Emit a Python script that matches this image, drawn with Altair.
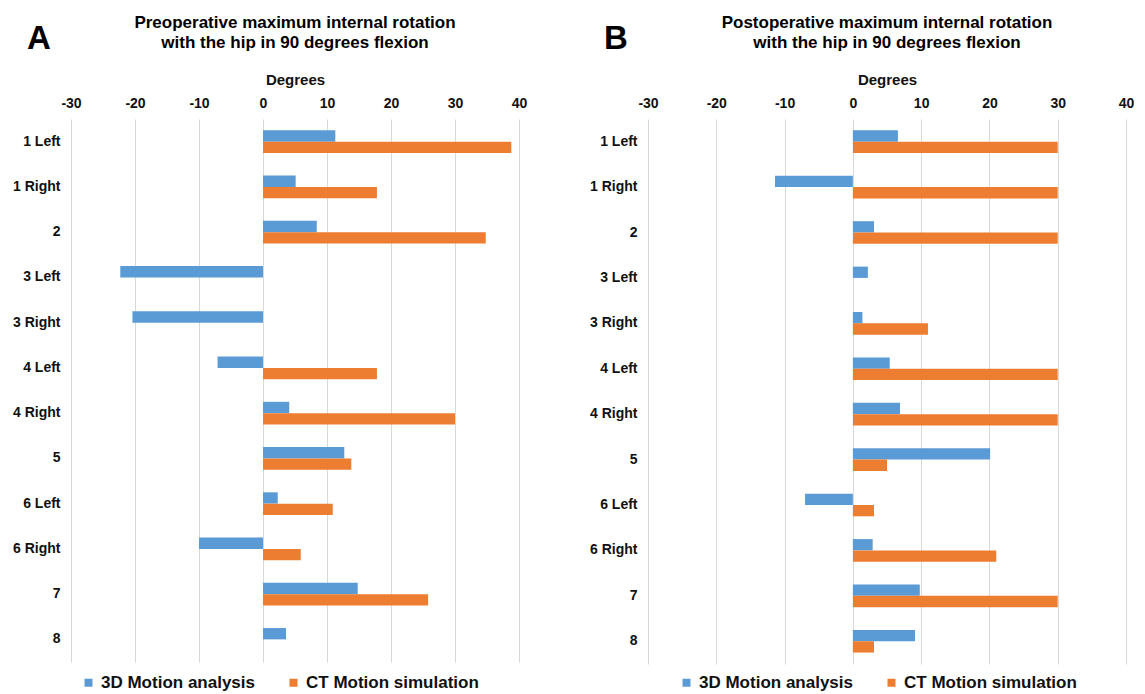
import altair as alt
import pandas as pd

categories = ["1 Left", "1 Right", "2", "3 Left", "3 Right", "4 Left",
              "4 Right", "5", "6 Left", "6 Right", "7", "8"]
series = ["3D Motion analysis", "CT Motion simulation"]
colors = ["#5B9BD5", "#ED7D31"]

pre_3d = [11.3, 5.1, 8.4, -22.3, -20.4, -7.1, 4.1, 12.7, 2.3, -10.0, 14.8, 3.6]
pre_ct = [38.8, 17.8, 34.8, None, None, 17.8, 30.0, 13.8, 10.9, 5.9, 25.8, None]
post_3d = [6.6, -11.4, 3.1, 2.2, 1.4, 5.4, 6.9, 20.1, -7.0, 2.9, 9.8, 9.1]
post_ct = [30.0, 30.0, 30.0, None, 11.0, 30.0, 30.0, 5.0, 3.1, 21.0, 30.0, 3.1]

x_ticks = [-30, -20, -10, 0, 10, 20, 30, 40]
title_pre = ["Preoperative maximum internal rotation", "with the hip in 90 degrees flexion"]
title_post = ["Postoperative maximum  internal rotation", "with the hip in 90 degrees flexion"]
letters = ["A", "B"]

FONT = "Liberation Sans"
TXT = "#111111"


def long_df(v3d, vct):
    rows = []
    for c, a, b in zip(categories, v3d, vct):
        rows.append({"cat": c, "series": series[0], "value": a})
        rows.append({"cat": c, "series": series[1], "value": b})
    return pd.DataFrame(rows)


def panel(letter, title_lines, v3d, vct, width, height, legend_x, legend_dy):
    df = long_df(v3d, vct)
    bars = alt.Chart(df).mark_bar().encode(
        x=alt.X("value:Q",
                scale=alt.Scale(domain=[-30, 40], nice=False, zero=False),
                axis=alt.Axis(orient="top", values=x_ticks, title="Degrees",
                              labelExpr="datum.value < 0 ? '-' + abs(datum.value) : '' + datum.value",
                              labelFlush=False, labelOverlap=False,
                              domain=False, ticks=False, grid=True,
                              gridColor="#d9d9d9", gridWidth=1,
                              labelFont=FONT, labelFontSize=14, labelFontWeight="bold",
                              labelColor=TXT, labelPadding=9,
                              titleFont=FONT, titleFontSize=15, titleFontWeight="bold",
                              titleColor=TXT, titlePadding=9)),
        y=alt.Y("cat:N", sort=categories,
                scale=alt.Scale(paddingInner=0.5, paddingOuter=0.25),
                axis=alt.Axis(title=None, domain=False, ticks=False, grid=False,
                              labelFont=FONT, labelFontSize=14, labelFontWeight="bold",
                              labelColor=TXT, labelPadding=11)),
        yOffset=alt.YOffset("series:N", sort=series),
        color=alt.Color("series:N",
                        scale=alt.Scale(domain=series, range=colors),
                        legend=alt.Legend(orient="none", legendX=legend_x,
                                          legendY=height + legend_dy,
                                          direction="horizontal", title=None,
                                          symbolType="square", symbolSize=64,
                                          symbolStrokeWidth=0,
                                          labelFont=FONT, labelFontSize=17,
                                          labelFontWeight="bold", labelColor=TXT,
                                          labelOffset=4, columnPadding=30,
                                          labelLimit=400)),
    )
    letter_mark = alt.Chart(pd.DataFrame({"t": [letter]})).mark_text(
        font=FONT, fontSize=33, fontWeight="bold", color="#000000",
        align="center", baseline="alphabetic"
    ).encode(text="t:N", x=alt.value(-32), y=alt.value(-70))
    t1 = alt.Chart(pd.DataFrame({"t": [title_lines[0]]})).mark_text(
        font=FONT, fontSize=17, fontWeight="bold", color="#000000",
        align="center", baseline="alphabetic"
    ).encode(text="t:N", x=alt.value(width / 2), y=alt.value(-91))
    t2 = alt.Chart(pd.DataFrame({"t": [title_lines[1]]})).mark_text(
        font=FONT, fontSize=17, fontWeight="bold", color="#000000",
        align="center", baseline="alphabetic"
    ).encode(text="t:N", x=alt.value(width / 2), y=alt.value(-71))
    return alt.layer(bars, letter_mark, t1, t2).properties(
        width=width, height=height,
        view=alt.ViewBackground(stroke="transparent", strokeWidth=0)
    )


pa = panel(letters[0], title_pre, pre_3d, pre_ct, 448, 543, 9, 12)
pb = panel(letters[1], title_post, post_3d, post_ct, 478, 545, 30, 10)

chart = alt.hconcat(pa, pb, spacing=62).resolve_scale(
    color="independent", x="independent", y="independent"
).properties(
    padding={"left": 4, "top": 6, "right": 0, "bottom": 0}
).configure_view(strokeWidth=0, stroke="transparent").configure(background="white")

chart.save("out.html", embed_options={"renderer": "svg", "actions": False})
